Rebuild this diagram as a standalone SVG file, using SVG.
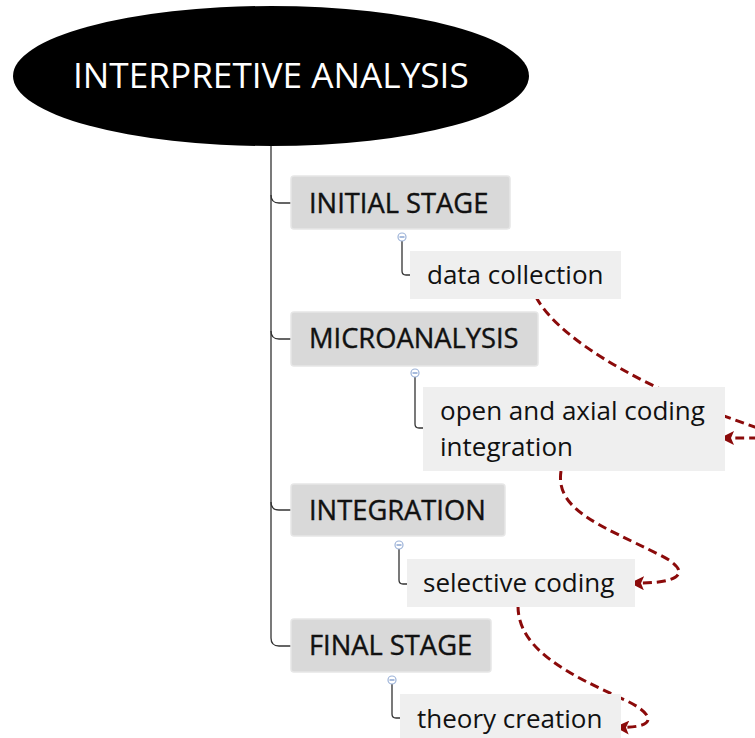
<svg xmlns="http://www.w3.org/2000/svg" width="755" height="738" viewBox="0 0 755 738">
  <style>
    .title { font-family: "Open Sans", "Liberation Sans", sans-serif; font-size: 35.2px; fill: #ffffff; }
    .cat { fill: #d9d9d9; stroke: #e6e6e6; stroke-width: 1.5; }
    .cat-text { font-family: "Open Sans", "Liberation Sans", sans-serif; font-size: 27.3px; fill: #111111; stroke: #111111; stroke-width: 0.4; }
    .leaf { fill: #efefef; }
    .leaf-text { font-family: "Open Sans", "Liberation Sans", sans-serif; font-size: 26px; fill: #111111; }
    .tree { fill: none; stroke: #333333; stroke-width: 1.3; }
    .toggle { fill: #ffffff; stroke: #9db3d8; stroke-width: 1.2; }
    .toggle-bar { stroke: #6f8fc6; stroke-width: 1.2; }
    .link { fill: none; stroke: #8b0a0a; stroke-width: 3; stroke-dasharray: 9 5; }
  </style>
  <defs>
    <marker id="arrow" viewBox="0 0 14 14" refX="12" refY="7" markerWidth="14" markerHeight="14" markerUnits="userSpaceOnUse" orient="auto">
      <path d="M0,0 L14,7 L0,14 L3,7 Z" fill="#8b0a0a"/>
    </marker>
  </defs>

  <!-- tree lines -->
  <g id="connectors">
    <path class="tree" d="M271,146 V195 Q271,203 279,203 H291"/>
    <path class="tree" d="M271,195 V331 Q271,339 279,339 H291"/>
    <path class="tree" d="M271,331 V502 Q271,510 279,510 H291"/>
    <path class="tree" d="M271,502 V638 Q271,646 279,646 H291"/>
    <path class="tree" d="M402,241 V271 Q402,275 406,275 H410"/>
    <path class="tree" d="M415,377 V424 Q415,428 419,428 H423"/>
    <path class="tree" d="M399,549 V580 Q399,584 403,584 H407"/>
    <path class="tree" d="M392,684 V714 Q392,718 396,718 H400"/>

    <!-- relationship arrows -->
    <path class="link" marker-end="url(#arrow)" d="M536,297 C562,345 660,395 755,427 C790,440 770,438 722,438"/>
    <path class="link" marker-end="url(#arrow)" d="M561,471 C555,510 600,525 660,555 C692,571 684,584 632,583"/>
    <path class="link" marker-end="url(#arrow)" d="M518,606 C518,650 570,675 625,700 C657,715 657,729 617,727"/>
  </g>

  <g id="root">
    <ellipse cx="271" cy="76" rx="258" ry="70" fill="#000000"/>
    <text class="title" x="73" y="88">INTERPRETIVE ANALYSIS</text>
  </g>

  <g id="initial-stage">
    <rect class="cat" x="291" y="176" width="219" height="53" rx="3"/>
    <text class="cat-text" x="309" y="213">INITIAL STAGE</text>
    <circle class="toggle" cx="402" cy="237" r="4"/>
    <line class="toggle-bar" x1="399.5" y1="237" x2="404.5" y2="237"/>
  </g>

  <g id="data-collection">
    <rect class="leaf" x="410" y="251" width="211" height="48"/>
    <text class="leaf-text" x="427" y="284">data collection</text>
  </g>

  <g id="microanalysis">
    <rect class="cat" x="291" y="312" width="247" height="54" rx="3"/>
    <text class="cat-text" x="309" y="348">MICROANALYSIS</text>
    <circle class="toggle" cx="415" cy="373" r="4"/>
    <line class="toggle-bar" x1="412.5" y1="373" x2="417.5" y2="373"/>
  </g>

  <g id="open-axial-coding">
    <rect class="leaf" x="423" y="387" width="302" height="84"/>
    <text class="leaf-text" x="440" y="420">open and axial coding</text>
    <text class="leaf-text" x="440" y="456">integration</text>
  </g>

  <g id="integration">
    <rect class="cat" x="291" y="484" width="214" height="52" rx="3"/>
    <text class="cat-text" x="309" y="520">INTEGRATION</text>
    <circle class="toggle" cx="399" cy="545" r="4"/>
    <line class="toggle-bar" x1="396.5" y1="545" x2="401.5" y2="545"/>
  </g>

  <g id="selective-coding">
    <rect class="leaf" x="407" y="559" width="228" height="48"/>
    <text class="leaf-text" x="423" y="592">selective coding</text>
  </g>

  <g id="final-stage">
    <rect class="cat" x="291" y="619" width="200" height="53" rx="3"/>
    <text class="cat-text" x="309" y="655">FINAL STAGE</text>
    <circle class="toggle" cx="392" cy="680" r="4"/>
    <line class="toggle-bar" x1="389.5" y1="680" x2="394.5" y2="680"/>
  </g>

  <g id="theory-creation">
    <rect class="leaf" x="400" y="694" width="221" height="48"/>
    <text class="leaf-text" x="417" y="728">theory creation</text>
  </g>
</svg>
